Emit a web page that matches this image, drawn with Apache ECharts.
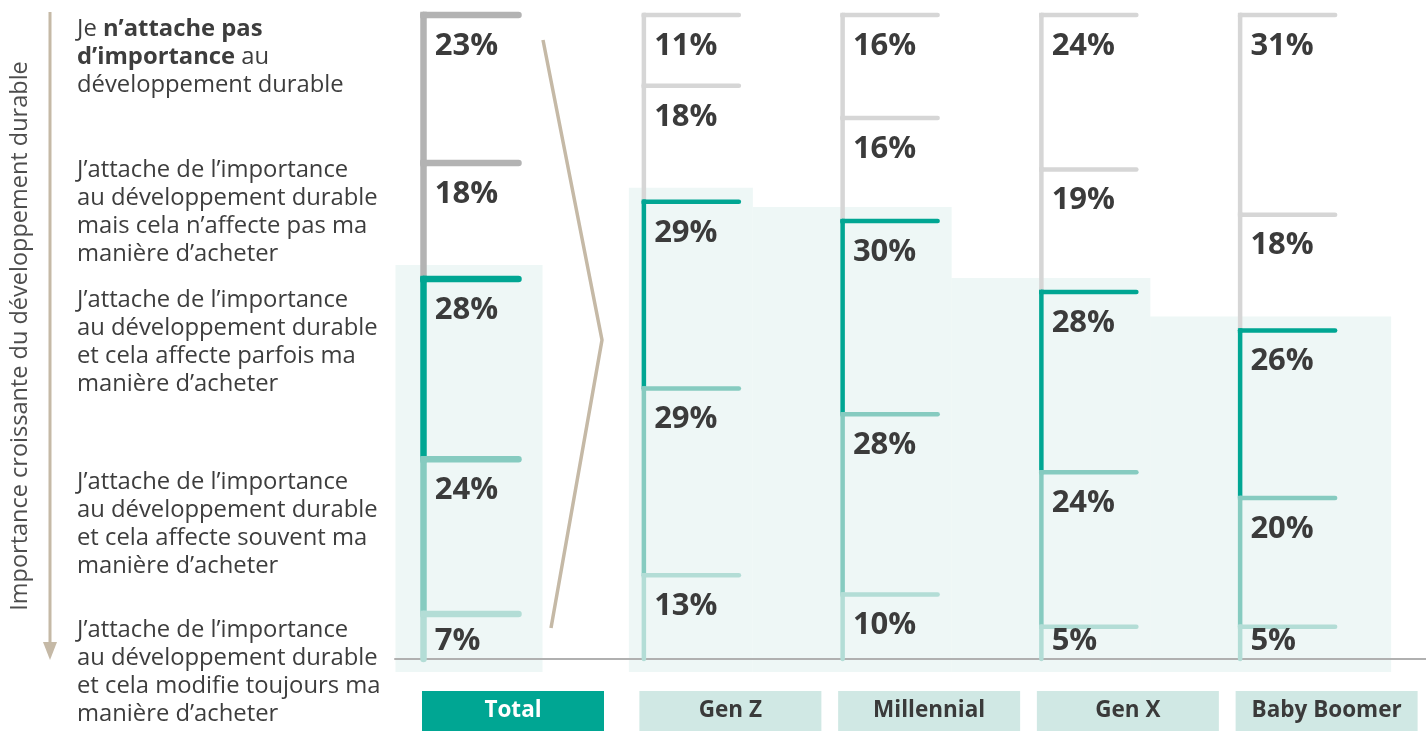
<!DOCTYPE html>
<html>
<head>
<meta charset="utf-8">
<script src="https://cdn.jsdelivr.net/npm/echarts@6/dist/echarts.min.js"></script>
<style>
html, body { margin: 0; padding: 0; background: #fff; }
#chart { width: 1426px; height: 731px; }
</style>
</head>
<body>
<div id="chart"></div>
<script>
// données (% par niveau, du haut vers le bas)
const generations = ['Gen Z', 'Millennial', 'Gen X', 'Baby Boomer']
const total = [23, 18, 28, 24, 7]
const genZ = [11, 18, 29, 29, 13]
const millennial = [16, 16, 30, 28, 10]
const genX = [24, 19, 28, 24, 5]
const babyBoomer = [31, 18, 26, 20, 5]

const segmentLabels = [
    'Je {b|n’attache pas}\n{b|d’importance} au\ndéveloppement durable',
    'J’attache de l’importance\nau développement durable\nmais cela n’affecte pas ma\nmanière d’acheter',
    'J’attache de l’importance\nau développement durable\net cela affecte parfois ma\nmanière d’acheter',
    'J’attache de l’importance\nau développement durable\net cela affecte souvent ma\nmanière d’acheter',
    'J’attache de l’importance\nau développement durable\net cela modifie toujours ma\nmanière d’acheter'
]
const axisTitle = 'Importance croissante du développement durable'

const FONT = '"Open Sans", "Noto Sans", sans-serif'
const tealShades = ['#00a693', '#86cbc0', '#b3ddd6']
const BASE_Y = 659

const chart = echarts.init(document.getElementById('chart'))

function bracketRender (opts) {
    return function (params, api) {
        const idx = api.value(0)
        const vals = [1, 2, 3, 4, 5].map(k => api.value(k))
        const vx = api.coord([idx, 0])[0] + opts.offset
        const lw = opts.lineWidth
        const children = []
        let cum = 0
        vals.forEach((v, k) => {
            const y0 = api.coord([idx, cum])[1]
            cum += v
            const y1 = api.coord([idx, cum])[1]
            const color = k < 2 ? opts.gray : tealShades[k - 2]
            children.push({
                type: 'line',
                shape: { x1: vx, y1: y0, x2: vx, y2: y1 },
                style: { stroke: color, lineWidth: lw, lineCap: 'round' }
            })
            children.push({
                type: 'line',
                shape: { x1: vx, y1: y0, x2: vx + 95, y2: y0 },
                style: { stroke: color, lineWidth: lw, lineCap: 'round' }
            })
            children.push({
                type: 'rect',
                shape: { x: vx - lw / 2, y: y0 - lw / 2, width: lw, height: lw },
                style: { fill: color }
            })
            children.push({
                type: 'text',
                x: vx + lw / 2 + 8,
                y: Math.min(y0 + 31, BASE_Y - 18),
                style: {
                    text: v + '%',
                    fill: '#3b3b3b',
                    fontSize: 31,
                    fontWeight: 'bold',
                    fontFamily: FONT,
                    align: 'left',
                    verticalAlign: 'middle'
                }
            })
        })
        return { type: 'group', children }
    }
}

function shadeRender (opts) {
    return function (params, api) {
        const idx = api.value(0)
        const n = params.dataInsideLength
        const vals = [1, 2, 3, 4, 5].map(k => api.value(k))
        const sum = vals.reduce((a, b) => a + b, 0)
        const vx = api.coord([idx, 0])[0] + opts.offset
        const yTop = api.coord([idx, vals[0] + vals[1]])[1] - 14
        const yBot = api.coord([idx, sum])[1] + 13
        const left = vx + (idx === 0 ? opts.firstLeft : -90)
        const right = vx + (idx === n - 1 ? opts.lastRight : 109)
        return {
            type: 'rect',
            shape: { x: left, y: yTop, width: right - left, height: yBot - yTop },
            style: { fill: '#eef7f6' }
        }
    }
}

function boxLabel (bg, color) {
    return {
        margin: 32,
        interval: 0,
        formatter: v => '{box|' + v + '}',
        rich: {
            box: {
                width: 182,
                height: 40,
                lineHeight: 40,
                align: 'center',
                backgroundColor: bg,
                color: color,
                fontSize: 22.5,
                fontWeight: 'bold',
                fontFamily: FONT
            }
        }
    }
}

const axisLine = { show: true, onZero: false, lineStyle: { color: '#b0b0b0', width: 2 } }

const textItems = []
const labelTops = [15, 156, 286, 468, 616]
segmentLabels.forEach((t, i) => {
    textItems.push({
        type: 'text',
        x: 77,
        y: labelTops[i],
        style: {
            text: t,
            fill: '#3d3d3d',
            fontSize: 23.8,
            fontFamily: FONT,
            lineHeight: 28,
            verticalAlign: 'top',
            rich: {
                b: { fontSize: 23.8, fontFamily: FONT, fontWeight: 'bold', lineHeight: 28, fill: '#3d3d3d' }
            }
        }
    })
})

const option = {
    animation: false,
    grid: [
        { left: 395, top: 15, width: 236, bottom: 731 - BASE_Y },
        { left: 631, top: 15, width: 796, bottom: 731 - BASE_Y }
    ],
    xAxis: [
        {
            type: 'category', gridIndex: 0, data: ['Total'], z: 2, position: 'bottom',
            axisLine, axisTick: { show: false },
            axisLabel: boxLabel('#00a693', '#ffffff')
        },
        {
            type: 'category', gridIndex: 1, data: generations, z: 2, position: 'bottom',
            axisLine, axisTick: { show: false },
            axisLabel: boxLabel('#d0e8e4', '#3a3a3a')
        }
    ],
    yAxis: [
        { type: 'value', gridIndex: 0, min: 0, max: 100, inverse: true, show: false },
        { type: 'value', gridIndex: 1, min: 0, max: 100, inverse: true, show: false }
    ],
    series: [
        {
            type: 'custom', xAxisIndex: 0, yAxisIndex: 0, z: 1, silent: true,
            renderItem: shadeRender({ offset: -89.5, firstLeft: -28, lastRight: 119 }),
            data: [[0, ...total]]
        },
        {
            type: 'custom', xAxisIndex: 1, yAxisIndex: 1, z: 1, silent: true,
            renderItem: shadeRender({ offset: -86.5, firstLeft: -15, lastRight: 151 }),
            data: [[0, ...genZ], [1, ...millennial], [2, ...genX], [3, ...babyBoomer]]
        },
        {
            type: 'custom', xAxisIndex: 0, yAxisIndex: 0, z: 3,
            renderItem: bracketRender({ offset: -89.5, lineWidth: 6.5, gray: '#b3b3b3' }),
            data: [[0, ...total]]
        },
        {
            type: 'custom', xAxisIndex: 1, yAxisIndex: 1, z: 3,
            renderItem: bracketRender({ offset: -86.5, lineWidth: 4.5, gray: '#d6d6d6' }),
            data: [[0, ...genZ], [1, ...millennial], [2, ...genX], [3, ...babyBoomer]]
        }
    ],
    graphic: [
        {
            type: 'text',
            x: 20,
            y: 336,
            rotation: Math.PI / 2,
            style: {
                text: axisTitle,
                fill: '#4d4d4d',
                fontSize: 23.5,
                fontFamily: FONT,
                align: 'center',
                verticalAlign: 'middle'
            }
        },
        {
            type: 'line',
            shape: { x1: 50, y1: 12, x2: 50, y2: 645 },
            style: { stroke: '#c5b9a6', lineWidth: 3 }
        },
        {
            type: 'polygon',
            shape: { points: [[43, 642], [57, 642], [50, 660]] },
            style: { fill: '#c5b9a6' }
        },
        {
            type: 'polyline',
            shape: { points: [[543, 40], [602, 340], [551, 628]] },
            style: { stroke: '#c5b9a6', lineWidth: 3.5, fill: null }
        },
        ...textItems
    ]
}

chart.setOption(option)
</script>
</body>
</html>
